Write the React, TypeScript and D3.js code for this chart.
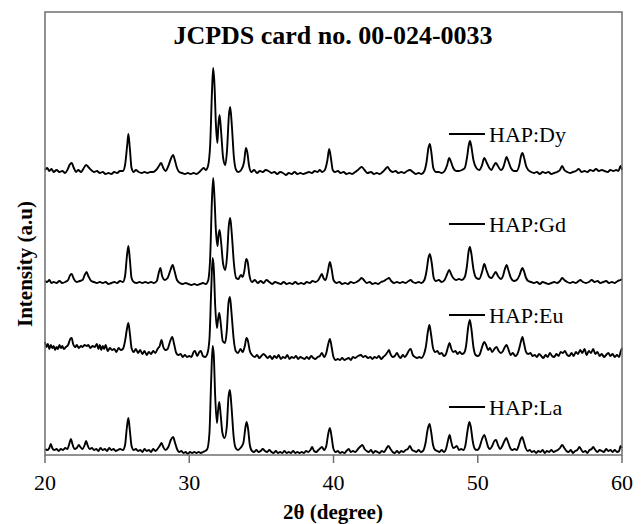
import React from "react";
import * as d3 from "d3";

// ---------- DATA (2θ in degrees, intensity in a.u. above each pattern's own base) ----------
const xTicks = [20, 30, 40, 50, 60];
const seriesNames = ["HAP:Dy", "HAP:Gd", "HAP:Eu", "HAP:La"];
const seriesOffsets = [280, 169, 94, 0];

const dyPattern: [number, number][] = [
  [20.0,5],[20.15,7],[20.3,4],[20.45,6],[20.6,3],[20.8,5],[21.0,3],[21.2,4],[21.4,2],[21.55,5],[21.7,10],[21.85,12],[22.0,7],[22.15,3],[22.3,5],[22.5,3],[22.65,6],[22.85,10],[23.0,8],[23.2,5],[23.4,3],[23.6,4],[23.8,2],[24.0,3],[24.2,1],[24.4,2],[24.6,1],[24.8,3],[25.0,2],[25.2,4],[25.4,4],[25.55,10],[25.7,30],[25.78,41],[25.88,27],[26.0,7],[26.15,3],[26.3,5],[26.5,3],[26.7,2],[26.9,3],[27.1,2],[27.3,3],[27.5,3],[27.7,5],[27.9,9],[28.05,12],[28.2,7],[28.35,4],[28.55,9],[28.75,17],[28.88,20],[29.0,15],[29.15,7],[29.3,3],[29.5,2],[29.7,1],[29.9,2],[30.1,1],[30.3,2],[30.5,1],[30.7,3],[30.9,6],[31.0,7],[31.15,5],[31.3,9],[31.45,30],[31.58,85],[31.66,107],[31.75,90],[31.85,50],[31.95,32],[32.02,50],[32.1,60],[32.2,45],[32.35,17],[32.5,10],[32.62,25],[32.75,60],[32.84,68],[32.95,50],[33.1,17],[33.25,5],[33.4,3],[33.6,5],[33.8,13],[33.93,27],[34.02,23],[34.15,9],[34.3,3],[34.5,5],[34.7,2],[34.9,4],[35.1,3],[35.3,5],[35.5,4],[35.7,2],[35.9,3],[36.1,1],[36.3,3],[36.5,2],[36.7,0],[36.9,2],[37.1,1],[37.3,3],[37.5,1],[37.7,2],[37.9,1],[38.1,2],[38.3,3],[38.5,2],[38.7,4],[38.9,3],[39.05,5],[39.2,3],[39.4,5],[39.58,15],[39.7,26],[39.82,17],[39.95,5],[40.1,3],[40.3,4],[40.5,2],[40.7,3],[40.9,1],[41.1,2],[41.3,1],[41.5,3],[41.7,5],[41.95,8],[42.15,5],[42.35,2],[42.6,3],[42.8,1],[43.0,2],[43.2,1],[43.4,3],[43.6,6],[43.75,8],[43.9,5],[44.1,3],[44.3,4],[44.5,2],[44.7,3],[44.9,2],[45.1,4],[45.3,5],[45.5,3],[45.7,1],[45.9,2],[46.1,1],[46.3,4],[46.45,13],[46.58,27],[46.68,31],[46.78,23],[46.92,7],[47.1,3],[47.3,3],[47.5,2],[47.7,4],[47.88,10],[48.02,17],[48.15,13],[48.3,7],[48.5,4],[48.7,4],[48.9,5],[49.1,7],[49.25,17],[49.38,30],[49.46,34],[49.55,29],[49.7,15],[49.9,7],[50.1,5],[50.3,10],[50.45,17],[50.6,13],[50.8,7],[50.95,5],[51.1,9],[51.25,12],[51.4,9],[51.6,5],[51.75,7],[51.88,13],[52.0,18],[52.12,14],[52.3,7],[52.5,4],[52.7,4],[52.88,10],[53.0,19],[53.1,22],[53.2,18],[53.35,9],[53.5,5],[53.7,3],[53.9,2],[54.1,3],[54.3,1],[54.5,3],[54.7,2],[54.9,3],[55.1,1],[55.3,2],[55.5,3],[55.7,5],[55.85,9],[56.0,5],[56.2,3],[56.4,2],[56.6,3],[56.8,4],[57.0,6],[57.2,3],[57.4,4],[57.6,3],[57.8,5],[58.0,4],[58.2,6],[58.4,4],[58.6,5],[58.8,4],[59.0,3],[59.2,5],[59.4,4],[59.6,5],[59.75,4],[59.9,9],[60.0,5]
];

const gdPattern: [number, number][] = [
  [20.0,5],[20.15,4],[20.3,6],[20.45,3],[20.6,4],[20.8,3],[21.0,5],[21.2,3],[21.4,4],[21.6,6],[21.75,11],[21.85,12],[22.0,7],[22.2,4],[22.4,5],[22.6,6],[22.75,11],[22.88,14],[23.0,10],[23.2,5],[23.4,4],[23.6,3],[23.8,4],[24.0,3],[24.2,4],[24.4,2],[24.6,3],[24.8,4],[25.0,3],[25.2,5],[25.4,4],[25.55,10],[25.68,30],[25.78,40],[25.88,27],[26.0,8],[26.15,4],[26.35,3],[26.55,4],[26.75,3],[26.95,4],[27.15,3],[27.35,4],[27.55,3],[27.75,5],[27.9,14],[28.0,18],[28.12,10],[28.3,6],[28.5,8],[28.7,16],[28.85,21],[28.98,15],[29.15,6],[29.35,3],[29.55,2],[29.75,3],[29.95,2],[30.15,1],[30.35,2],[30.55,1],[30.75,2],[30.95,3],[31.15,2],[31.3,5],[31.45,28],[31.57,85],[31.66,108],[31.75,88],[31.85,55],[31.96,40],[32.02,50],[32.1,56],[32.2,45],[32.35,22],[32.5,16],[32.62,30],[32.74,60],[32.84,68],[32.95,52],[33.1,22],[33.25,8],[33.4,7],[33.58,11],[33.7,9],[33.82,15],[33.95,27],[34.05,24],[34.18,10],[34.35,4],[34.55,6],[34.75,3],[34.95,5],[35.15,3],[35.35,6],[35.55,4],[35.75,2],[35.95,4],[36.15,3],[36.35,2],[36.55,4],[36.75,2],[36.95,3],[37.15,2],[37.35,4],[37.55,2],[37.75,3],[37.95,2],[38.15,4],[38.35,3],[38.55,5],[38.75,4],[38.95,6],[39.1,10],[39.2,12],[39.3,8],[39.45,6],[39.6,14],[39.75,24],[39.88,16],[40.0,6],[40.2,3],[40.4,4],[40.6,2],[40.8,3],[41.0,2],[41.2,4],[41.4,3],[41.6,4],[41.8,6],[41.95,8],[42.1,6],[42.3,3],[42.5,4],[42.7,2],[42.9,3],[43.1,2],[43.3,4],[43.5,5],[43.7,7],[43.85,8],[44.0,5],[44.2,3],[44.4,4],[44.6,3],[44.8,4],[45.0,3],[45.2,5],[45.35,6],[45.5,4],[45.7,3],[45.9,4],[46.1,3],[46.3,6],[46.45,15],[46.58,28],[46.68,32],[46.8,24],[46.95,8],[47.1,5],[47.3,6],[47.5,4],[47.7,6],[47.88,12],[48.02,16],[48.15,12],[48.3,8],[48.5,6],[48.7,7],[48.9,6],[49.1,9],[49.25,20],[49.36,34],[49.45,39],[49.55,33],[49.7,17],[49.9,8],[50.1,7],[50.3,14],[50.45,22],[50.6,16],[50.8,9],[50.95,8],[51.1,11],[51.25,14],[51.4,10],[51.6,7],[51.75,10],[51.88,17],[52.0,21],[52.12,16],[52.3,8],[52.5,5],[52.7,6],[52.9,11],[53.02,16],[53.1,18],[53.2,15],[53.35,8],[53.5,5],[53.7,4],[53.9,3],[54.1,4],[54.3,2],[54.5,4],[54.7,3],[54.9,2],[55.1,3],[55.3,4],[55.5,3],[55.7,5],[55.85,8],[56.0,6],[56.2,4],[56.4,3],[56.6,4],[56.8,3],[57.0,5],[57.1,6],[57.3,4],[57.5,3],[57.7,4],[57.9,6],[58.1,4],[58.3,5],[58.5,3],[58.7,4],[58.9,5],[59.1,3],[59.3,4],[59.5,3],[59.7,5],[59.9,6],[60.0,7]
];

const euPattern: [number, number][] = [
  [20.0,19],[20.1,14],[20.2,17],[20.3,12],[20.4,16],[20.5,13],[20.6,15],[20.7,11],[20.8,14],[20.9,12],[21.0,16],[21.1,13],[21.2,15],[21.3,12],[21.45,14],[21.6,16],[21.75,22],[21.85,23],[21.95,17],[22.1,14],[22.2,16],[22.35,13],[22.5,15],[22.6,14],[22.75,16],[22.9,15],[23.0,16],[23.15,13],[23.3,15],[23.45,14],[23.6,17],[23.7,12],[23.8,16],[23.9,11],[24.0,15],[24.1,12],[24.2,16],[24.35,10],[24.5,13],[24.65,11],[24.8,12],[24.95,9],[25.1,13],[25.25,11],[25.4,12],[25.55,20],[25.68,32],[25.78,38],[25.88,28],[26.0,13],[26.15,9],[26.3,12],[26.45,8],[26.6,11],[26.75,7],[26.9,10],[27.05,6],[27.2,9],[27.35,7],[27.5,10],[27.65,8],[27.8,12],[27.95,15],[28.08,21],[28.2,14],[28.35,11],[28.5,12],[28.68,20],[28.82,24],[28.95,17],[29.1,8],[29.25,6],[29.4,7],[29.55,4],[29.7,6],[29.85,4],[30.0,5],[30.15,4],[30.3,9],[30.4,10],[30.55,5],[30.7,9],[30.8,10],[30.95,5],[31.1,4],[31.25,7],[31.4,22],[31.52,70],[31.62,103],[31.7,93],[31.8,55],[31.92,33],[32.0,42],[32.08,48],[32.18,38],[32.32,20],[32.48,18],[32.6,30],[32.72,58],[32.82,64],[32.93,48],[33.08,22],[33.22,10],[33.38,8],[33.55,12],[33.7,9],[33.85,15],[33.97,23],[34.07,20],[34.2,10],[34.35,6],[34.55,4],[34.7,6],[34.85,3],[35.0,5],[35.15,7],[35.3,5],[35.45,3],[35.6,5],[35.75,2],[35.9,5],[36.05,3],[36.2,6],[36.35,2],[36.5,4],[36.65,3],[36.8,6],[36.95,2],[37.1,4],[37.25,3],[37.4,5],[37.55,2],[37.7,4],[37.85,3],[38.0,2],[38.15,4],[38.3,2],[38.45,5],[38.6,3],[38.75,2],[38.9,4],[39.05,5],[39.2,8],[39.35,4],[39.5,8],[39.62,16],[39.75,22],[39.87,14],[40.0,4],[40.15,1],[40.3,2],[40.45,1],[40.6,3],[40.75,1],[40.9,2],[41.05,3],[41.2,1],[41.35,4],[41.5,3],[41.7,5],[41.9,6],[42.05,4],[42.2,5],[42.4,3],[42.55,4],[42.7,2],[42.85,4],[43.0,3],[43.15,5],[43.3,2],[43.45,4],[43.6,6],[43.75,9],[43.85,11],[43.95,7],[44.1,4],[44.25,5],[44.4,8],[44.52,5],[44.65,3],[44.8,6],[44.95,4],[45.1,7],[45.25,11],[45.35,12],[45.5,6],[45.65,4],[45.8,3],[45.95,4],[46.1,3],[46.25,6],[46.4,14],[46.55,30],[46.65,36],[46.75,28],[46.9,13],[47.05,9],[47.2,10],[47.35,7],[47.5,8],[47.65,5],[47.8,7],[47.92,13],[48.05,18],[48.15,13],[48.3,9],[48.45,10],[48.6,7],[48.75,9],[48.9,7],[49.05,8],[49.2,16],[49.33,33],[49.45,41],[49.56,32],[49.7,14],[49.85,6],[50.0,5],[50.15,7],[50.3,14],[50.45,19],[50.58,16],[50.72,11],[50.85,13],[51.0,9],[51.15,12],[51.3,14],[51.45,10],[51.6,8],[51.75,10],[51.88,14],[52.0,16],[52.12,12],[52.28,6],[52.43,8],[52.6,5],[52.75,7],[52.9,14],[53.02,21],[53.1,24],[53.2,18],[53.35,9],[53.5,7],[53.65,8],[53.8,5],[53.95,6],[54.1,4],[54.25,7],[54.4,5],[54.55,3],[54.7,6],[54.85,4],[55.0,8],[55.15,5],[55.3,4],[55.45,7],[55.6,5],[55.75,9],[55.9,8],[56.05,10],[56.2,6],[56.35,5],[56.5,8],[56.65,5],[56.8,9],[56.95,7],[57.1,11],[57.25,8],[57.4,12],[57.55,6],[57.7,10],[57.85,8],[58.0,12],[58.15,7],[58.3,9],[58.45,5],[58.6,7],[58.75,4],[58.9,6],[59.05,8],[59.2,5],[59.35,7],[59.5,4],[59.65,6],[59.8,4],[59.9,9],[60.0,13]
];

const laPattern: [number, number][] = [
  [20.0,6],[20.15,5],[20.3,7],[20.4,11],[20.5,7],[20.65,5],[20.8,6],[20.95,4],[21.1,6],[21.25,5],[21.4,7],[21.55,6],[21.7,12],[21.8,16],[21.9,11],[22.05,6],[22.2,7],[22.35,10],[22.45,8],[22.6,6],[22.75,10],[22.85,14],[22.95,10],[23.1,6],[23.25,7],[23.4,5],[23.55,6],[23.7,4],[23.85,7],[24.0,5],[24.15,6],[24.3,4],[24.45,7],[24.6,5],[24.75,6],[24.9,4],[25.05,5],[25.2,6],[25.4,5],[25.55,10],[25.68,28],[25.78,37],[25.88,25],[26.0,9],[26.15,5],[26.3,6],[26.45,4],[26.6,5],[26.75,3],[26.9,6],[27.05,4],[27.2,5],[27.35,3],[27.5,6],[27.65,4],[27.8,6],[27.95,9],[28.08,12],[28.2,8],[28.35,5],[28.55,8],[28.72,15],[28.88,18],[29.0,13],[29.15,6],[29.3,3],[29.45,4],[29.6,2],[29.75,3],[29.9,1],[30.05,3],[30.2,2],[30.35,3],[30.5,2],[30.65,3],[30.8,2],[30.95,3],[31.1,4],[31.25,6],[31.4,22],[31.52,75],[31.62,109],[31.7,100],[31.8,58],[31.92,32],[32.0,45],[32.08,53],[32.18,40],[32.3,22],[32.45,17],[32.6,28],[32.72,58],[32.82,65],[32.93,48],[33.08,18],[33.22,7],[33.38,5],[33.55,7],[33.75,12],[33.9,28],[33.98,33],[34.08,26],[34.2,10],[34.35,4],[34.5,3],[34.65,5],[34.8,3],[34.95,4],[35.1,6],[35.25,4],[35.4,3],[35.55,5],[35.7,3],[35.85,2],[36.0,4],[36.15,2],[36.3,3],[36.45,2],[36.6,4],[36.75,2],[36.9,3],[37.05,2],[37.2,4],[37.35,2],[37.5,3],[37.65,2],[37.8,3],[37.95,2],[38.1,4],[38.25,3],[38.4,5],[38.52,8],[38.65,4],[38.8,3],[38.95,5],[39.1,7],[39.2,8],[39.35,5],[39.5,9],[39.62,20],[39.75,27],[39.87,18],[40.0,6],[40.15,3],[40.3,4],[40.45,2],[40.6,3],[40.75,2],[40.9,4],[41.05,6],[41.2,3],[41.35,4],[41.5,3],[41.7,6],[41.9,9],[42.0,10],[42.15,6],[42.3,4],[42.45,3],[42.6,5],[42.75,2],[42.9,4],[43.05,3],[43.2,2],[43.35,4],[43.5,3],[43.65,6],[43.8,9],[43.95,6],[44.1,3],[44.25,2],[44.4,4],[44.55,2],[44.7,4],[44.85,3],[45.0,5],[45.15,6],[45.3,9],[45.45,5],[45.6,4],[45.75,3],[45.9,5],[46.05,3],[46.2,4],[46.38,12],[46.52,25],[46.65,31],[46.75,25],[46.9,10],[47.05,5],[47.2,4],[47.35,3],[47.5,5],[47.65,3],[47.8,6],[47.93,14],[48.05,20],[48.15,14],[48.3,7],[48.45,8],[48.55,9],[48.7,5],[48.85,6],[49.0,5],[49.15,10],[49.3,25],[49.42,33],[49.52,28],[49.65,14],[49.8,6],[49.95,5],[50.1,7],[50.3,16],[50.45,20],[50.58,15],[50.72,8],[50.85,6],[51.0,9],[51.15,14],[51.27,15],[51.4,10],[51.55,6],[51.7,9],[51.85,14],[51.98,17],[52.1,13],[52.25,7],[52.4,5],[52.55,6],[52.7,5],[52.85,10],[52.98,16],[53.08,18],[53.18,14],[53.32,7],[53.47,4],[53.6,5],[53.75,3],[53.9,4],[54.05,2],[54.2,4],[54.35,3],[54.5,5],[54.65,2],[54.8,4],[54.95,3],[55.1,5],[55.25,3],[55.4,4],[55.55,5],[55.7,7],[55.85,10],[56.0,7],[56.15,4],[56.3,3],[56.45,5],[56.6,2],[56.75,4],[56.9,5],[57.05,8],[57.15,6],[57.3,3],[57.45,4],[57.6,2],[57.75,5],[57.9,6],[58.0,8],[58.15,5],[58.3,3],[58.45,5],[58.6,4],[58.75,3],[58.9,6],[59.05,4],[59.2,5],[59.35,3],[59.5,5],[59.65,3],[59.8,4],[59.9,9],[60.0,7]
];

const patterns = [dyPattern, gdPattern, euPattern, laPattern];

// ---------- LAYOUT ----------
const W = 644;
const H = 524;
const plot = { left: 45, right: 622, top: 12, bottom: 455 };
const legendLineX = [449, 485];
const legendTextX = 489;
const legendLineY = [134, 224, 315, 407];
const serif = "'Liberation Serif', 'Times New Roman', Times, serif";

export default function App() {
  const x = d3.scaleLinear().domain([20, 60]).range([plot.left, plot.right]);
  const y = d3.scaleLinear().domain([0, plot.bottom - plot.top]).range([plot.bottom, plot.top]);

  const paths = patterns.map((pts, i) => {
    const off = seriesOffsets[i];
    const line = d3
      .line<[number, number]>()
      .x((d) => x(d[0]))
      .y((d) => y(d[1] + off))
      .curve(d3.curveMonotoneX);
    return line(pts) || "";
  });

  return (
    <svg
      width={W}
      height={H}
      style={{ position: "absolute", left: 0, top: 0, background: "#fff" }}
      fontFamily={serif}
    >
      <rect x={0} y={0} width={W} height={H} fill="#fff" />
      {/* title */}
      <text x={333} y={44} textAnchor="middle" fontSize={26} fontWeight="bold" fill="#000">
        JCPDS card no. 00-024-0033
      </text>

      {/* patterns */}
      <g fill="none" stroke="#000" strokeWidth={1.9} strokeLinejoin="round">
        {paths.map((d, i) => (
          <path key={seriesNames[i]} d={d} />
        ))}
      </g>

      {/* frame */}
      <rect
        x={plot.left}
        y={plot.top}
        width={plot.right - plot.left}
        height={plot.bottom - plot.top}
        fill="none"
        stroke="#6e6e6e"
        strokeWidth={1.5}
      />

      {/* x ticks */}
      {xTicks.map((t) => (
        <g key={t}>
          <line x1={x(t)} x2={x(t)} y1={plot.bottom} y2={plot.bottom + 8} stroke="#6e6e6e" strokeWidth={1.5} />
          <text x={x(t)} y={490} textAnchor="middle" fontSize={22} fill="#000">
            {t}
          </text>
        </g>
      ))}

      {/* axis titles */}
      <text x={333} y={519} textAnchor="middle" fontSize={21} fontWeight="bold" fill="#000">
        2θ (degree)
      </text>
      <text
        transform={`translate(32, 264) rotate(-90)`}
        textAnchor="middle"
        fontSize={21}
        fontWeight="bold"
        fill="#000"
      >
        Intensity (a.u)
      </text>

      {/* legend labels */}
      {seriesNames.map((name, i) => (
        <g key={name}>
          <line
            x1={legendLineX[0]}
            x2={legendLineX[1]}
            y1={legendLineY[i]}
            y2={legendLineY[i]}
            stroke="#000"
            strokeWidth={2}
          />
          <text x={legendTextX} y={legendLineY[i] + 7.5} fontSize={22} fill="#000">
            {name}
          </text>
        </g>
      ))}
    </svg>
  );
}
